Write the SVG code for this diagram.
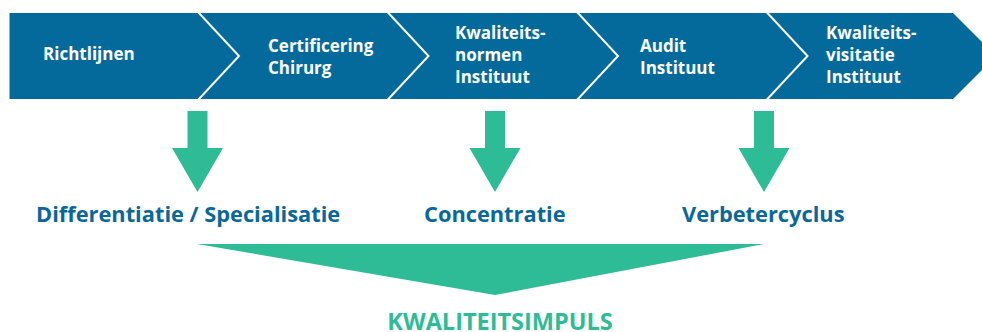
<svg xmlns="http://www.w3.org/2000/svg" width="982" height="332" viewBox="0 0 982 332">
  <style>
    .step { fill: #ffffff; font-family: "Open Sans", "Liberation Sans", sans-serif; font-weight: 700; font-size: 17px; }
    .label { fill: #0a679a; font-family: "Open Sans", "Liberation Sans", sans-serif; font-weight: 700; font-size: 21.8px; }
    .impulse { fill: #2ebc96; font-family: "Open Sans", "Liberation Sans", sans-serif; font-weight: 700; font-size: 23.5px; }
    .sep { fill: none; stroke: #ffffff; stroke-width: 2; }
    .green { fill: #2ebc96; }
  </style>
  <defs>
    <!-- downward block arrow, tip at origin -->
    <path id="down" d="M-10,-81 H10 V-44 H25.5 L0,0 L-25.5,-44 H-10 Z"/>
  </defs>

  <!-- process bar -->
  <g id="bar">
    <polygon points="9.5,13 953,13 996,56 953,99 9.5,99" fill="#046a9c"/>
  </g>

  <g id="connectors">
    <polyline class="sep" points="198,12 239,56 198,100"/>
    <polyline class="sep" points="387.5,12 428.5,56 387.5,100"/>
    <polyline class="sep" points="577,12 618,56 577,100"/>
    <polyline class="sep" points="766.5,12 807.5,56 766.5,100"/>
    <use href="#down" class="green" x="197.5" y="192"/>
    <use href="#down" class="green" x="495" y="192"/>
    <use href="#down" class="green" x="764" y="192"/>
    <polygon class="green" points="197,244 764,244 495,295"/>
  </g>

  <g id="step-richtlijnen">
    <text class="step" x="43" y="60">Richtlijnen</text>
  </g>
  <g id="step-certificering">
    <text class="step" x="268" y="52">Certificering</text>
    <text class="step" x="268" y="74">Chirurg</text>
  </g>
  <g id="step-kwaliteitsnormen">
    <text class="step" x="455" y="39">Kwaliteits-</text>
    <text class="step" x="455" y="61">normen</text>
    <text class="step" x="455" y="83">Instituut</text>
  </g>
  <g id="step-audit">
    <text class="step" x="640" y="52">Audit</text>
    <text class="step" x="640" y="74">Instituut</text>
  </g>
  <g id="step-kwaliteitsvisitatie">
    <text class="step" x="826" y="39">Kwaliteits-</text>
    <text class="step" x="826" y="61">visitatie</text>
    <text class="step" x="826" y="83">Instituut</text>
  </g>

  <g id="outcome-differentiatie">
    <text class="label" x="36" y="222">Differentiatie / Specialisatie</text>
  </g>
  <g id="outcome-concentratie">
    <text class="label" x="424" y="222">Concentratie</text>
  </g>
  <g id="outcome-verbetercyclus">
    <text class="label" x="682" y="222">Verbetercyclus</text>
  </g>
  <g id="impulse">
    <text class="impulse" x="500" y="330" text-anchor="middle">KWALITEITSIMPULS</text>
  </g>
</svg>
